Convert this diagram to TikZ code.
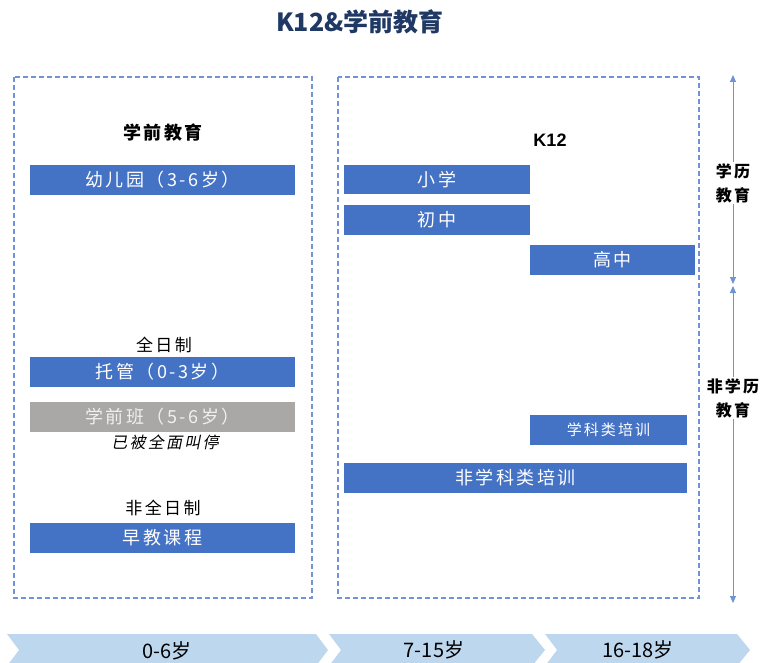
\documentclass[tikz,border=0pt]{standalone}
\usepackage{fontspec}
\setmainfont{Liberation Sans}
\newfontfamily\cjk{Noto Sans CJK SC}
\newfontfamily\cjkw[LetterSpace=14]{Noto Sans CJK SC}
\newfontfamily\cjkws[LetterSpace=14,FakeSlant=0.2]{Noto Sans CJK SC}
\newfontfamily\agefont{Noto Sans CJK SC}
\usetikzlibrary{arrows.meta}
\definecolor{boxblue}{HTML}{4472C4}
\definecolor{dashblue}{HTML}{6F93D6}
\definecolor{navy}{HTML}{1F3864}
\definecolor{chev}{HTML}{BDD7EE}
\definecolor{stopgray}{HTML}{AAA7A7}
\begin{document}
\begin{tikzpicture}[x=1pt,y=-1pt,
  bluebox/.style={fill=boxblue,draw=none,text=white,font=\cjkw\fontsize{18}{18}\selectfont,inner sep=0pt},
  graybox/.style={fill=stopgray,draw=none,text=white!88!gray,font=\cjkw\fontsize{18}{18}\selectfont,inner sep=0pt},
  region/.style={draw=dashblue,line width=1.2pt,dash pattern=on 5pt off 3pt},
  heading/.style={font=\cjkw\bfseries\fontsize{18}{18}\selectfont,text=black},
  plain/.style={font=\cjkw\fontsize{17}{17}\selectfont,text=black},
  sidelabel/.style={font=\cjkw\bfseries\fontsize{16}{24}\selectfont,align=center,fill=white,inner sep=1pt},
  span/.style={draw=dashblue,line width=0.9pt,{Triangle[length=7pt,width=6pt]}-{Triangle[length=7pt,width=6pt]}},
  chevron/.style={fill=chev,draw=none},
  agetext/.style={font=\agefont\fontsize{20}{20}\selectfont,text=black}]
\useasboundingbox (0,0) rectangle (762,663);
\clip (0,0) rectangle (762,663);

\node[font=\cjk\bfseries\fontsize{25}{25}\selectfont,text=navy] (title) at (360,22) {K12\&学前教育};

\draw[region] (14,77) rectangle (312,598);
\draw[region] (338,77) rectangle (699,598);

\node[heading] (pre) at (163,133) {学前教育};
\node[bluebox,minimum width=265pt,minimum height=30pt] (kg) at (162.5,180) {幼儿园（3-6岁）};
\node[plain] (full) at (164,345) {全日制};
\node[bluebox,minimum width=265pt,minimum height=30pt] (tg) at (162.5,372) {托管（0-3岁）};
\node[graybox,minimum width=265pt,minimum height=30pt] (xqb) at (162.5,417) {学前班（5-6岁）};
\node[font=\cjkws\fontsize{16}{16}\selectfont] (stop) at (165,442) {已被全面叫停};
\node[plain] (part) at (163,508) {非全日制};
\node[bluebox,minimum width=265pt,minimum height=30pt] (zj) at (162.5,538) {早教课程};

\node[font=\bfseries\fontsize{18}{18}\selectfont] (k12) at (550,140) {K12};
\node[bluebox,minimum width=186pt,minimum height=29pt] (xx) at (437,179.5) {小学};
\node[bluebox,minimum width=186pt,minimum height=30pt] (cz) at (437,220) {初中};
\node[bluebox,minimum width=165pt,minimum height=30pt] (gz) at (612.5,260) {高中};
\node[bluebox,minimum width=157pt,minimum height=30pt,font=\cjkw\fontsize{15}{15}\selectfont] (xk) at (608.5,430) {学科类培训};
\node[bluebox,minimum width=343pt,minimum height=30pt] (fxk) at (515.5,478) {非学科类培训};

\coordinate (a1) at (733,75);
\coordinate (a2) at (733,284);
\coordinate (a3) at (733,286);
\coordinate (a4) at (733,603);
\draw[span] (a1) -- (a2);
\draw[span] (a3) -- (a4);
\node[sidelabel] (xl) at (733,183) {学历\\教育};
\node[sidelabel] (fxl) at (733,398) {非学历\\教育};

\path[chevron] (7,634) -- (316,634) -- (328,650) -- (316,666) -- (7,666) -- (19,650) -- cycle;
\path[chevron] (329,634) -- (532,634) -- (545,650) -- (532,666) -- (329,666) -- (341,650) -- cycle;
\path[chevron] (545,634) -- (737,634) -- (750,650) -- (737,666) -- (545,666) -- (557,650) -- cycle;
\node[agetext] (g1) at (167,651) {0-6岁};
\node[agetext] (g2) at (434,650) {7-15岁};
\node[agetext] (g3) at (638,650) {16-18岁};
\end{tikzpicture}
\end{document}
